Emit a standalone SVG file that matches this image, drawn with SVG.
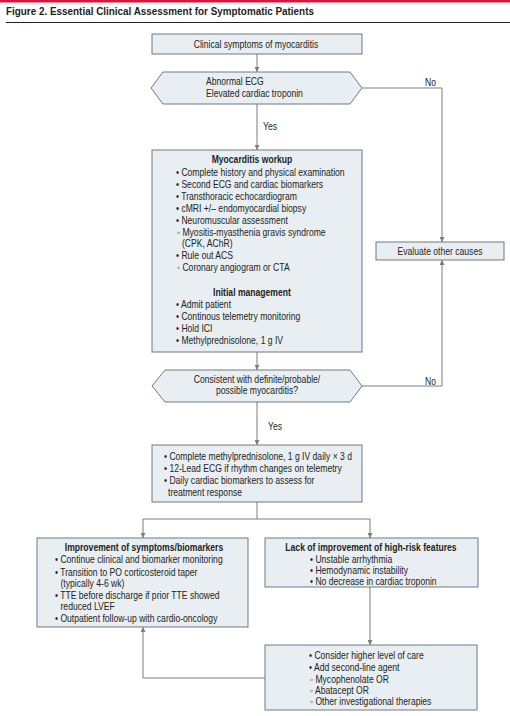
<svg xmlns="http://www.w3.org/2000/svg" width="510" height="716" viewBox="0 0 510 716">
<defs>
<style>
text{font-family:"Liberation Sans",Arial,sans-serif;font-size:10px;fill:#231f20}
.b{font-weight:bold}
.c{text-anchor:middle}
.box{fill:#e8eef2;stroke:#6e7a82;stroke-width:1}
.ln{fill:none;stroke:#7d7d7d;stroke-width:1}
.title{font-size:11px;font-weight:bold}
</style>
<marker id="ah" viewBox="0 0 6 6" refX="6" refY="3" markerWidth="5" markerHeight="5" orient="auto" markerUnits="userSpaceOnUse">
<path d="M0,0 L6,3 L0,6 z" fill="#7d7d7d"/>
</marker>
</defs>
<rect x="0" y="0" width="510" height="716" fill="#ffffff"/>
<rect x="0" y="0" width="510" height="2.5" fill="#d4183d"/>
<g transform="scale(0.9,1)">
<text class="title" x="6.67" y="15">Figure 2. Essential Clinical Assessment for Symptomatic Patients</text>
</g>
<line x1="6" y1="22.5" x2="510" y2="22.5" stroke="#231f20" stroke-width="1"/>

<g id="connectors">
<path class="ln" d="M257,54 V72" marker-end="url(#ah)"/>
<path class="ln" d="M362,88 H442 V242" marker-end="url(#ah)"/>
<path class="ln" d="M257,104 V150" marker-end="url(#ah)"/>
<path class="ln" d="M257,352 V370" marker-end="url(#ah)"/>
<path class="ln" d="M362,386 H442 V260" marker-end="url(#ah)"/>
<path class="ln" d="M257,402 V445" marker-end="url(#ah)"/>
<path class="ln" d="M257,502 V519 M143,519 H370"/>
<path class="ln" d="M143,519 V538" marker-end="url(#ah)"/>
<path class="ln" d="M370,519 V538" marker-end="url(#ah)"/>
<path class="ln" d="M370,587 V645" marker-end="url(#ah)"/>
<path class="ln" d="M265,678 H143 V627" marker-end="url(#ah)"/>
<g transform="scale(0.86,1)">
<text x="494.19" y="86">No</text>
<text x="305.81" y="130">Yes</text>
<text x="494.19" y="385">No</text>
<text x="311.63" y="430">Yes</text>
</g>
</g>

<g id="n-symptoms">
<rect class="box" x="152" y="34" width="210" height="20"/>
<g transform="scale(0.86,1)">
<text class="c" x="297.67" y="48">Clinical symptoms of myocarditis</text>
</g>
</g>

<g id="n-ecg">
<polygon class="box" points="151,88 163,72 350,72 362,88 350,104 163,104"/>
<g transform="scale(0.86,1)">
<text x="239.53" y="85">Abnormal ECG</text>
<text x="239.53" y="97">Elevated cardiac troponin</text>
</g>
</g>

<g id="n-workup">
<rect class="box" x="152" y="150" width="210" height="202"/>
<g transform="scale(0.86,1)">
<text class="b c" x="293.02" y="163">Myocarditis workup</text>
<text x="204.65" y="176">• Complete history and physical examination</text>
<text x="204.65" y="188">• Second ECG and cardiac biomarkers</text>
<text x="204.65" y="200">• Transthoracic echocardiogram</text>
<text x="204.65" y="212">• cMRI +/– endomyocardial biopsy</text>
<text x="204.65" y="224">• Neuromuscular assessment</text>
<text x="205.81" y="236">◦ Myositis-myasthenia gravis syndrome</text>
<text x="211.63" y="247">(CPK, AChR)</text>
<text x="204.65" y="259">• Rule out ACS</text>
<text x="205.81" y="271">◦ Coronary angiogram or CTA</text>
<text class="b c" x="293.02" y="296">Initial management</text>
<text x="204.65" y="308">• Admit patient</text>
<text x="204.65" y="320">• Continous telemetry monitoring</text>
<text x="204.65" y="332">• Hold ICI</text>
<text x="204.65" y="344">• Methylprednisolone, 1 g IV</text>
</g>
</g>

<g id="n-evaluate">
<rect class="box" x="376" y="242" width="128" height="18"/>
<g transform="scale(0.86,1)">
<text class="c" x="511.63" y="255">Evaluate other causes</text>
</g>
</g>

<g id="n-consistent">
<polygon class="box" points="152,386 165,370 350,370 362,386 350,402 165,402"/>
<g transform="scale(0.86,1)">
<text class="c" x="298.84" y="383">Consistent with definite/probable/</text>
<text class="c" x="298.84" y="394">possible myocarditis?</text>
</g>
</g>

<g id="n-treat">
<rect class="box" x="152" y="445" width="210" height="57"/>
<g transform="scale(0.86,1)">
<text x="190.70" y="460">• Complete methylprednisolone, 1 g IV daily × 3 d</text>
<text x="190.70" y="472">• 12-Lead ECG if rhythm changes on telemetry</text>
<text x="190.70" y="484">• Daily cardiac biomarkers to assess for</text>
<text x="195.35" y="496">treatment response</text>
</g>
</g>

<g id="n-improve">
<rect class="box" x="37" y="538" width="211" height="89"/>
<g transform="scale(0.86,1)">
<text class="b c" x="167.44" y="551">Improvement of symptoms/biomarkers</text>
<text x="63.95" y="563">• Continue clinical and biomarker monitoring</text>
<text x="63.95" y="576">• Transition to PO corticosteroid taper</text>
<text x="70.35" y="587">(typically 4-6 wk)</text>
<text x="63.95" y="599">• TTE before discharge if prior TTE showed</text>
<text x="70.35" y="610">reduced LVEF</text>
<text x="63.95" y="622">• Outpatient follow-up with cardio-oncology</text>
</g>
</g>

<g id="n-lack">
<rect class="box" x="265" y="538" width="213" height="49"/>
<g transform="scale(0.86,1)">
<text class="b c" x="431.40" y="551">Lack of improvement of high-risk features</text>
<text x="360.47" y="563">• Unstable arrhythmia</text>
<text x="360.47" y="574">• Hemodynamic instability</text>
<text x="360.47" y="585">• No decrease in cardiac troponin</text>
</g>
</g>

<g id="n-escalate">
<rect class="box" x="265" y="645" width="212" height="65"/>
<g transform="scale(0.86,1)">
<text x="359.30" y="659">• Consider higher level of care</text>
<text x="359.30" y="671">• Add second-line agent</text>
<text x="360.47" y="683">◦ Mycophenolate OR</text>
<text x="360.47" y="694">◦ Abatacept OR</text>
<text x="360.47" y="705">◦ Other investigational therapies</text>
</g>
</g>
</svg>
